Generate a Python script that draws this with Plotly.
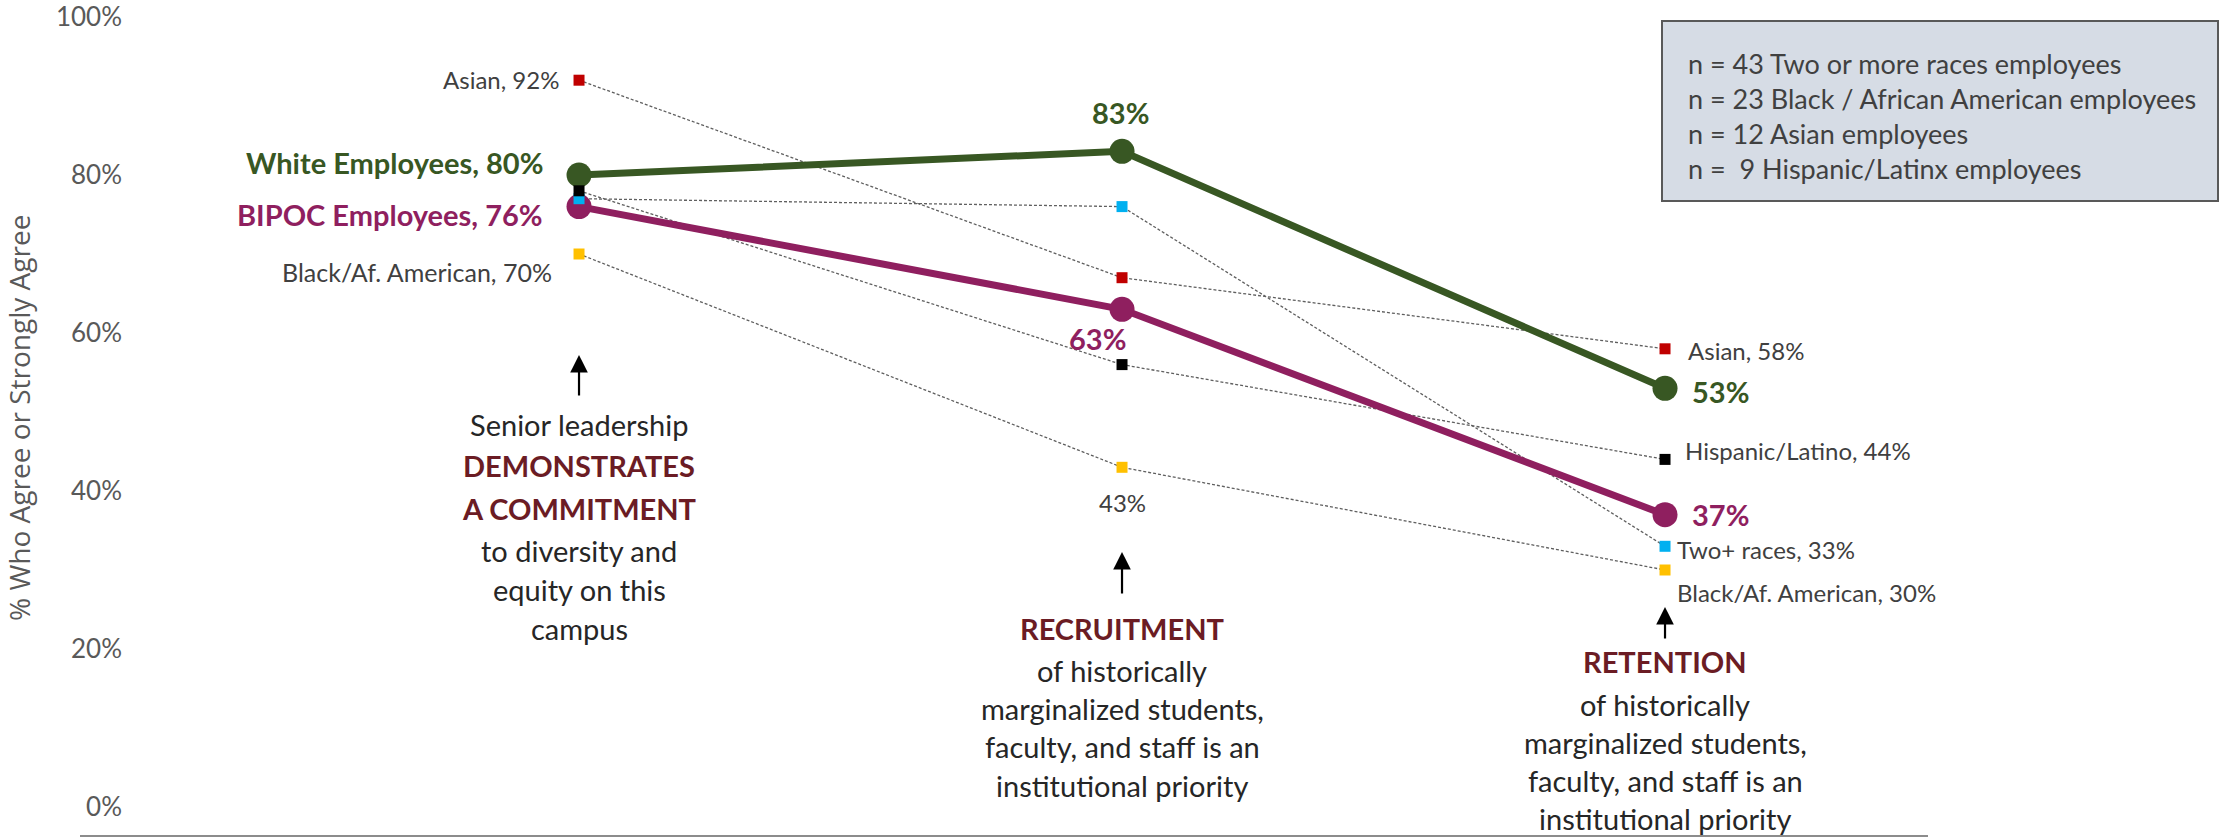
import plotly.graph_objects as go

# ---------------- data ----------------
categories = ["Senior leadership demonstrates a commitment", "Recruitment", "Retention"]
white = [80, 83, 53]
bipoc = [76, 63, 37]
asian = [92, 67, 58]
two_plus = [77, 76, 33]
hispanic = [78, 56, 44]
black_af = [70, 43, 30]
y_ticks = [0, 20, 40, 60, 80, 100]
y_tick_text = ["0%", "20%", "40%", "60%", "80%", "100%"]
sample_notes = [
    "n = 43 Two or more races employees",
    "n = 23 Black / African American employees",
    "n = 12 Asian employees",
    "n = \u00a09 Hispanic/Latinx employees",
]
cat_text = [
    ["Senior leadership", "<b>DEMONSTRATES</b>", "<b>A COMMITMENT</b>", "to diversity and", "equity on this", "campus"],
    ["<b>RECRUITMENT</b>", "of historically", "marginalized students,", "faculty, and staff is an", "institutional priority"],
    ["<b>RETENTION</b>", "of historically", "marginalized students,", "faculty, and staff is an", "institutional priority"],
]

# ---------------- styling ----------------
W, H = 2237, 839
ML, MR, MT, MB = 128, 309, 10, 2
PW, PH = W - ML - MR, H - MT - MB
PER_PCT = 7.9          # pixels per percentage point
ZERO_PX = 807          # pixel row of 0%
Y_RANGE = [(ZERO_PX - (H - MB)) / PER_PCT, (ZERO_PX - MT) / PER_PCT]
GREEN = "#385723"
PURPLE = "#8F1F5F"
DARKRED = "#6B1C24"
LABEL = "#404040"
BODY = "#262626"
FONT = "Lato"

xs = list(range(len(categories)))

def py(p):  # pixel row -> paper y
    return 1 - (p - MT) / PH

def px(p):  # pixel column -> paper x
    return (p - ML) / PW

fig = go.Figure()

race_series = [(asian, "#C00000"), (two_plus, "#00B0F0"), (hispanic, "#000000"), (black_af, "#FFC000")]
for vals, col in race_series:
    fig.add_trace(go.Scatter(x=xs, y=vals, mode="lines",
                             line=dict(color="#5F5F5F", width=1.3, dash="3px,2px"),
                             hoverinfo="skip", showlegend=False))

for vals, col in [(white, GREEN), (bipoc, PURPLE)]:
    fig.add_trace(go.Scatter(x=xs, y=vals, mode="lines+markers",
                             line=dict(color=col, width=7),
                             marker=dict(color=col, size=25),
                             showlegend=False))

for vals, col in race_series:
    fig.add_trace(go.Scatter(x=xs, y=vals, mode="markers",
                             marker=dict(color=col, size=11, symbol="square"),
                             showlegend=False))

ann = []

def lab(x, y, text, anchor, xs_, ys_, size=24, color=LABEL, bold=False):
    t = f"<b>{text}</b>" if bold else text
    ann.append(dict(x=x, y=y, xref="x", yref="y", text=t, showarrow=False,
                    xanchor=anchor, yanchor="middle", xshift=xs_, yshift=ys_,
                    font=dict(family=FONT, size=size, color=color)))

# point 1 labels
lab(0, asian[0], f"Asian, {asian[0]}%", "right", -18, 1)
lab(0, white[0], f"White Employees, {white[0]}%", "right", -34, 13, 29, GREEN, True)
lab(0, bipoc[0], f"BIPOC Employees, {bipoc[0]}%", "right", -34, -8, 29, PURPLE, True)
lab(0, black_af[0], f"Black/Af. American, {black_af[0]}%", "right", -25, -18, 25)
# point 2 labels
lab(1, white[1], f"{white[1]}%", "center", -2, 39, 29, GREEN, True)
lab(1, bipoc[1], f"{bipoc[1]}%", "center", -25, -29, 29, PURPLE, True)
lab(1, black_af[1], f"{black_af[1]}%", "center", 0, -35)
# point 3 labels
lab(2, asian[2], f"Asian, {asian[2]}%", "left", 21, -2)
lab(2, white[2], f"{white[2]}%", "left", 25, -3, 29, GREEN, True)
lab(2, hispanic[2], f"Hispanic/Latino, {hispanic[2]}%", "left", 18, 9)
lab(2, bipoc[2], f"{bipoc[2]}%", "left", 25, 0, 29, PURPLE, True)
lab(2, two_plus[2], f"Two+ races, {two_plus[2]}%", "left", 10, -3)
lab(2, black_af[2], f"Black/Af. American, {black_af[2]}%", "left", 10, -22)

# category descriptions
line_rows = [[424, 465, 508, 550, 589, 628], [628, 670, 708, 746, 785], [661, 704, 742, 780, 818]]
for k, (lines, rows) in enumerate(zip(cat_text, line_rows)):
    for t, r in zip(lines, rows):
        col = DARKRED if t.startswith("<b>") else BODY
        ann.append(dict(x=k, y=py(r), xref="x", yref="paper", text=t, showarrow=False,
                        xanchor="center", yanchor="middle",
                        font=dict(family=FONT, size=29, color=col)))

# arrows
for k, (tip, tail) in enumerate([(355, 397), (552, 595), (607, 640)]):
    ann.append(dict(x=k, y=py(tip), xref="x", yref="paper", text="", showarrow=True,
                    ax=0, ay=tail - tip, arrowhead=2, arrowsize=1.6, arrowwidth=2.2,
                    arrowcolor="#000000", standoff=0))

# sample size box text
ann.append(dict(x=px(1686), y=py(116), xref="paper", yref="paper",
                text="<br>".join(sample_notes), showarrow=False, align="left",
                xanchor="left", yanchor="middle",
                font=dict(family=FONT, size=27, color=LABEL)))

# y-axis title
ann.append(dict(x=px(19), y=py(418), xref="paper", yref="paper",
                text="% Who Agree or Strongly Agree", showarrow=False, textangle=-90,
                xanchor="center", yanchor="middle",
                font=dict(family="Open Sans", size=28, color="#595959")))

shapes = [
    dict(type="rect", xref="paper", yref="paper", x0=px(1662), x1=px(2218), y0=py(201), y1=py(21),
         fillcolor="#D6DCE5", line=dict(color="#595959", width=2), layer="below"),
    dict(type="line", xref="paper", yref="paper", x0=px(80), x1=1, y0=py(836), y1=py(836),
         line=dict(color="#8C8C8C", width=2)),
]

fig.update_layout(
    width=W, height=H,
    margin=dict(l=ML, r=MR, t=MT, b=MB),
    paper_bgcolor="white", plot_bgcolor="white",
    showlegend=False,
    annotations=ann, shapes=shapes,
    xaxis=dict(range=[-0.8306, 2.4843], visible=False, fixedrange=True),
    yaxis=dict(range=Y_RANGE, tickvals=y_ticks, ticktext=y_tick_text,
               showgrid=False, zeroline=False, showline=False, ticks="",
               automargin=False, fixedrange=True, ticklabelstandoff=5,
               tickfont=dict(family=FONT, size=26, color="#595959")),
)

fig.write_html("out.html", config={"displayModeBar": False},
               post_script="document.body.style.margin='0';document.body.style.overflow='hidden';")
